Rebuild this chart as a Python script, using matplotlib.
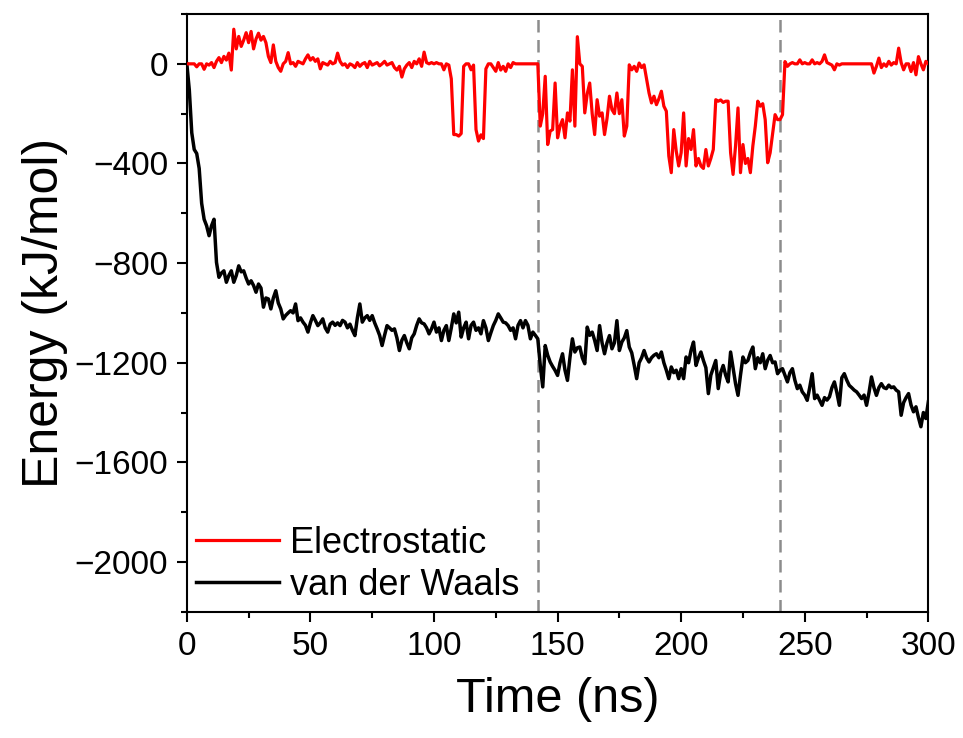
import numpy as np
import matplotlib
matplotlib.use("Agg")
import matplotlib.pyplot as plt
from matplotlib.ticker import MultipleLocator

plt.rcParams['font.family'] = ['Liberation Sans', 'DejaVu Sans']

# time axis (ns), one sample per ns
time_ns = np.arange(0, 301)

# electrostatic energy (kJ/mol)
elec = [
    0, 0, 0, 0, -12, 0, 0, -22, 0, -5,
    5, -15, 10, 25, 5, 30, 15, 43, -25, 139,
    60, 110, 70, 95, 125, 85, 130, 60, 100, 123,
    95, 110, 85, 30, 5, 76, 10, -15, -30, 0,
    10, 45, 0, 5, -10, 10, 5, 0, 20, 36,
    15, 25, 10, 20, -20, 5, 0, -5, 10, 0,
    5, 43, 10, -5, 0, -15, 0, -5, -15, 5,
    -10, 0, 5, -15, 10, -5, 0, 5, -8, 0,
    10, -5, 0, 5, -15, -25, -10, -53, -20, -5,
    5, -15, 10, 0, 20, -10, 47, 5, 0, 5,
    0, 5, 0, 0, -24, 0, -5, -60, -284, -284,
    -290, -280, -10, 0, 0, -24, -5, -264, -310, -285,
    -300, -20, 0, 0, -15, -30, 5, -25, -10, -30,
    0, -15, 5, 0, 0, 0, 0, 0, 0, 0,
    0, 0, 0, -250, -200, -50, -324, -270, -264, -77,
    -297, -250, -224, -297, -197, -230, -24, -250, 109, 0,
    -10, -197, -120, -77, -200, -284, -144, -210, -197, -284,
    -220, -130, -184, -200, -117, -200, -144, -290, -250, -4,
    -24, -10, -30, 3, -15, -4, -60, -117, -157, -130,
    -164, -140, -110, -170, -190, -370, -437, -264, -350, -410,
    -357, -197, -410, -300, -344, -264, -410, -380, -410, -420,
    -344, -410, -380, -344, -144, -150, -145, -155, -150, -150,
    -357, -444, -330, -177, -437, -324, -400, -380, -437, -330,
    -250, -150, -170, -160, -224, -397, -357, -280, -204, -224,
    -224, -204, 9, -10, 0, 5, 0, 0, 16, 0,
    5, 0, 0, 16, 0, 5, 0, 10, 36, 5,
    0, -5, -24, 0, -5, 0, 0, 0, 0, 0,
    0, 0, 0, 0, 0, 0, 0, 0, -37, -10,
    23, -15, 0, -10, 10, -5, 5, 0, 63, 5,
    -24, 0, 0, -31, 5, -44, 29, 0, -24, 10,
    0,
]

# van der Waals energy (kJ/mol)
vdw = [
    0, -104, -277, -344, -360, -420, -560, -624, -650, -690,
    -650, -624, -797, -857, -840, -831, -877, -850, -831, -877,
    -850, -811, -835, -831, -860, -884, -871, -890, -917, -884,
    -900, -977, -940, -944, -984, -940, -911, -960, -984, -1024,
    -1010, -1000, -991, -1000, -964, -1031, -1020, -1037, -1050, -1077,
    -1040, -1011, -1030, -1051, -1040, -1024, -1060, -1077, -1045, -1037,
    -1050, -1040, -1051, -1030, -1037, -1060, -1045, -1070, -1091, -1020,
    -964, -1037, -1020, -1011, -1030, -1011, -1040, -1064, -1090, -1131,
    -1090, -1051, -1060, -1070, -1064, -1100, -1151, -1110, -1091, -1120,
    -1144, -1100, -1084, -1050, -1024, -1040, -1044, -1060, -1084, -1064,
    -1037, -1077, -1060, -1111, -1070, -1051, -1111, -1060, -1004, -1040,
    -997, -1097, -1060, -1037, -1104, -1050, -1037, -1070, -1060, -1084,
    -1031, -1060, -1111, -1080, -1051, -1030, -1004, -1020, -1037, -1040,
    -1051, -1070, -1060, -1104, -1050, -1031, -1060, -1031, -1050, -1104,
    -1077, -1090, -1104, -1211, -1297, -1131, -1170, -1197, -1215, -1231,
    -1251, -1200, -1164, -1230, -1271, -1180, -1104, -1157, -1140, -1137,
    -1180, -1204, -1057, -1090, -1077, -1110, -1151, -1051, -1120, -1164,
    -1120, -1091, -1144, -1120, -1031, -1151, -1117, -1100, -1071, -1137,
    -1160, -1210, -1264, -1200, -1180, -1151, -1180, -1197, -1180, -1170,
    -1164, -1180, -1157, -1200, -1230, -1264, -1217, -1240, -1230, -1264,
    -1224, -1264, -1177, -1200, -1150, -1117, -1211, -1180, -1157, -1191,
    -1220, -1324, -1250, -1220, -1191, -1304, -1240, -1211, -1250, -1277,
    -1157, -1220, -1284, -1331, -1250, -1177, -1200, -1191, -1160, -1137,
    -1224, -1180, -1200, -1164, -1224, -1190, -1171, -1200, -1197, -1244,
    -1230, -1224, -1250, -1277, -1240, -1224, -1270, -1304, -1290, -1317,
    -1330, -1351, -1300, -1244, -1344, -1330, -1350, -1371, -1340, -1350,
    -1337, -1300, -1277, -1320, -1371, -1260, -1244, -1270, -1291, -1300,
    -1310, -1317, -1330, -1344, -1330, -1371, -1320, -1257, -1300, -1331,
    -1300, -1284, -1300, -1304, -1290, -1300, -1297, -1310, -1317, -1411,
    -1360, -1340, -1324, -1370, -1397, -1377, -1420, -1457, -1400, -1424,
    -1357,
]

stage_marks = [142, 240]

fig = plt.figure(figsize=(9.63, 7.38), dpi=100)
ax = fig.add_axes([0.194, 0.171, 0.770, 0.810])

for xm in stage_marks:
    ax.axvline(xm, color='#8c8c8c', lw=1.8, ls=(0, (5, 3)), zorder=1)

ax.plot(time_ns, elec, color='#ff0000', lw=2.3, label='Electrostatic', zorder=3)
ax.plot(time_ns, vdw, color='black', lw=2.5, label='van der Waals', zorder=2)

ax.set_xlim(0, 300)
ax.set_ylim(-2200, 200)
ax.xaxis.set_major_locator(MultipleLocator(50))
ax.xaxis.set_minor_locator(MultipleLocator(25))
ax.yaxis.set_major_locator(MultipleLocator(400))
ax.yaxis.set_minor_locator(MultipleLocator(200))
ax.tick_params(which='major', direction='out', length=7.5, width=1.5, labelsize=24, pad=6)
ax.tick_params(which='minor', direction='out', length=4, width=1.5)
for sp in ax.spines.values():
    sp.set_linewidth(1.5)

ax.set_xlabel('Time (ns)', fontsize=35, labelpad=11)
ax.set_ylabel('Energy (kJ/mol)', fontsize=36, labelpad=5)

ax.legend(loc='lower left', fontsize=26, frameon=False, handlelength=2.3,
          handletextpad=0.3, borderaxespad=0.15, borderpad=0.1, labelspacing=0.2)

fig.savefig('out.png', dpi=100)
